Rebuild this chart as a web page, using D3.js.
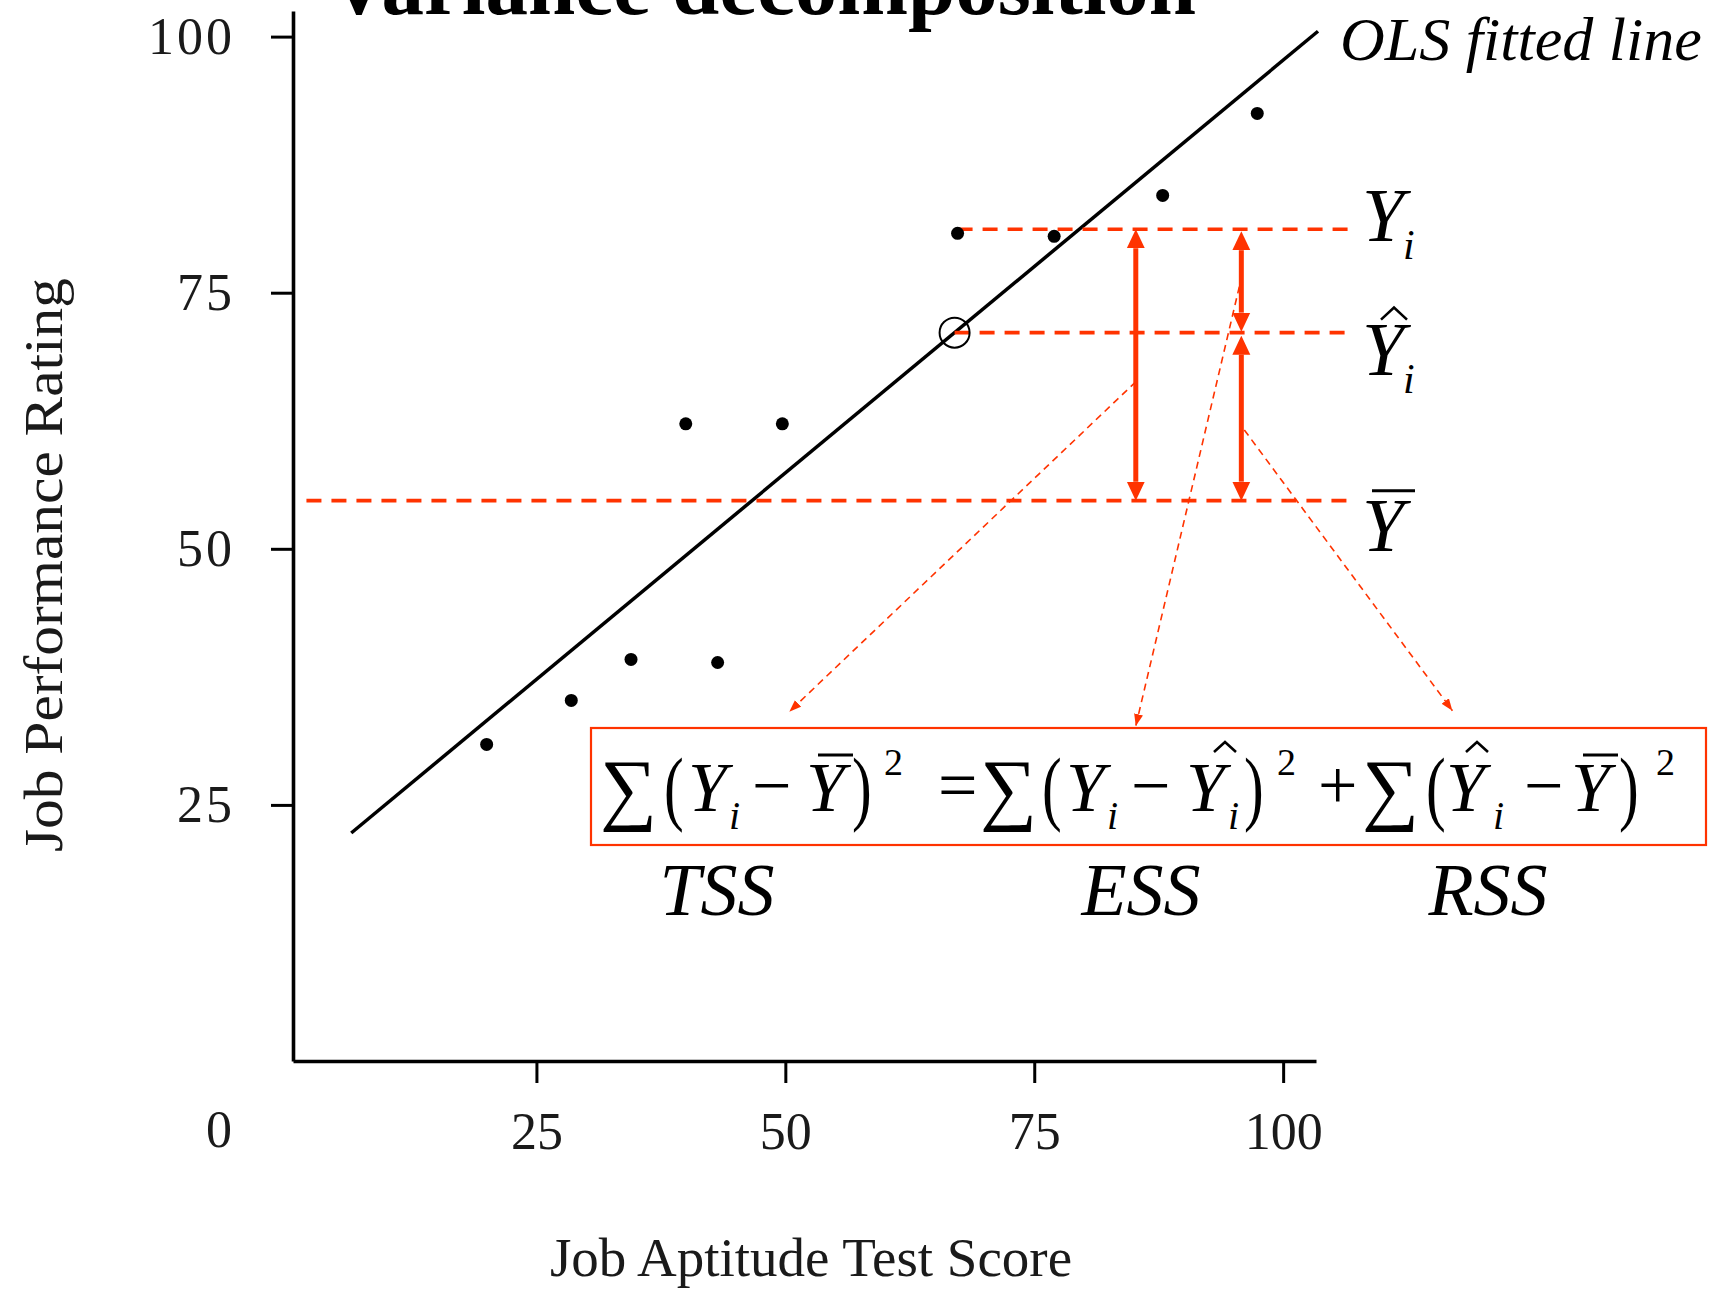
<!DOCTYPE html>
<html>
<head>
<meta charset="utf-8">
<script src="https://cdn.jsdelivr.net/npm/d3@7/dist/d3.min.js"></script>
<style>
  html, body { margin: 0; padding: 0; background: #ffffff; }
  svg { display: block; }
  text { font-family: "Liberation Serif", "Times New Roman", serif; }
</style>
</head>
<body>
<script>
// ---- Data -------------------------------------------------------------
const testScores   = [20.0, 28.5, 34.5, 40.0, 43.2, 49.7, 67.3, 77.0, 87.9, 97.4];
const ratings      = [30.9, 35.2, 39.2, 62.2, 38.9, 62.2, 80.8, 80.5, 84.5, 92.5];
const xTickValues  = [25, 50, 75, 100];
const yTickValues  = [25, 50, 75, 100];
const originLabel  = ["0"];

// fitted regression line  rating = a + b * score
const olsIntercept = 17.1;
const olsSlope     = 0.806;
const olsSpan      = [6.4, 103.5];

// highlighted observation i
const obsScore   = 67.0;
const obsRating  = 81.2;
const meanRating = 54.7;
const fittedRating = olsIntercept + olsSlope * obsScore;

// where the deviation arrows stand, and how far the reference lines run
const tssArrowScore   = 85.2;
const splitArrowScore = 95.8;
const levelLineEnd    = 106.7;
const meanLineStart   = 1.9;

// thin pointers from the deviations to the sums of squares
const pointerFrom = [[85.2, 66.3], [95.6, 75.6], [96.1, 61.6]];
const pointerTo   = [[50.4, 34.1], [85.2, 32.7], [117.0, 34.2]];

const sumLabels = ["TSS", "ESS", "RSS"];

// ---- Layout -----------------------------------------------------------
const W = 1713, H = 1291;
const red = "#ff3300";

const x = d3.scaleLinear().domain([0.55, 103.3]).range([293, 1316]);
const y = d3.scaleLinear().domain([0, 102.5]).range([1061, 11]);

const svg = d3.select("body").append("svg")
  .attr("width", W).attr("height", H);

const defs = svg.append("defs");
defs.append("marker")
  .attr("id", "bigHead")
  .attr("viewBox", "0 -10 19 20")
  .attr("markerUnits", "userSpaceOnUse")
  .attr("markerWidth", 19).attr("markerHeight", 20)
  .attr("refX", 0).attr("refY", 0)
  .attr("orient", "auto-start-reverse")
  .append("path").attr("d", "M0,-9L19,0L0,9Z").attr("fill", red);
defs.append("marker")
  .attr("id", "smallHead")
  .attr("viewBox", "0 -5 12 10")
  .attr("markerUnits", "userSpaceOnUse")
  .attr("markerWidth", 12).attr("markerHeight", 10)
  .attr("refX", 12).attr("refY", 0)
  .attr("orient", "auto")
  .append("path").attr("d", "M0,-4.5L12,0L0,4.5Z").attr("fill", red);

// ---- Title (runs off the top edge) ------------------------------------
svg.append("text")
  .attr("x", 328).attr("y", 14)
  .attr("font-size", 85).attr("font-weight", "bold")
  .attr("fill", "#000")
  .text("Variance decomposition");

// ---- Axes -------------------------------------------------------------
const xAxis = svg.append("g")
  .attr("transform", `translate(0,${y(0)})`)
  .call(d3.axisBottom(x).tickValues(xTickValues).tickSize(22).tickPadding(29).tickSizeOuter(0));
const yAxis = svg.append("g")
  .attr("transform", `translate(${x(0.55)},0)`)
  .call(d3.axisLeft(y).tickValues(yTickValues).tickSize(22).tickPadding(36).tickSizeOuter(0));

[xAxis, yAxis].forEach(g => {
  g.select(".domain").attr("stroke", "#000").attr("stroke-width", 3.6);
  g.selectAll(".tick line").attr("stroke", "#000").attr("stroke-width", 3);
  g.selectAll(".tick text")
    .attr("font-family", "'Liberation Serif', serif")
    .attr("font-size", 52)
    .attr("fill", "#1a1a1a");
});
yAxis.selectAll(".tick text").attr("letter-spacing", 3);

svg.selectAll("text.origin").data(originLabel).join("text")
  .attr("class", "origin")
  .attr("x", 219).attr("y", 1147)
  .attr("text-anchor", "middle")
  .attr("font-size", 52).attr("fill", "#1a1a1a")
  .text(d => d);

svg.append("text")
  .attr("x", 811).attr("y", 1276)
  .attr("text-anchor", "middle")
  .attr("font-size", 55).attr("fill", "#1a1a1a")
  .text("Job Aptitude Test Score");

svg.append("text")
  .attr("transform", "translate(62,565) rotate(-90)")
  .attr("text-anchor", "middle")
  .attr("font-size", 55).attr("fill", "#1a1a1a")
  .attr("textLength", 574).attr("lengthAdjust", "spacingAndGlyphs")
  .text("Job Performance Rating");

// ---- Fitted line ------------------------------------------------------
const olsLine = d3.line().x(d => x(d)).y(d => y(olsIntercept + olsSlope * d));
svg.append("path")
  .attr("d", olsLine(olsSpan))
  .attr("fill", "none").attr("stroke", "#000").attr("stroke-width", 3.5);

svg.append("text")
  .attr("x", 1340).attr("y", 60)
  .attr("font-size", 62).attr("font-style", "italic")
  .attr("fill", "#000")
  .text("OLS fitted line");

// ---- Reference levels: Y_i, Ŷ_i and mean -------------------------------
const levels = [
  {from: testScores[6], value: obsRating},
  {from: obsScore,      value: fittedRating},
  {from: meanLineStart, value: meanRating}
];
svg.selectAll("line.level").data(levels).join("line")
  .attr("class", "level")
  .attr("x1", d => x(d.from)).attr("x2", x(levelLineEnd))
  .attr("y1", d => y(d.value)).attr("y2", d => y(d.value))
  .attr("stroke", red).attr("stroke-width", 3.6)
  .attr("stroke-dasharray", "15,10");

// ---- Observations -----------------------------------------------------
svg.selectAll("circle.obs").data(testScores).join("circle")
  .attr("class", "obs")
  .attr("cx", d => x(d))
  .attr("cy", (d, i) => y(ratings[i]))
  .attr("r", 6.5)
  .attr("fill", "#000");

svg.append("circle")
  .attr("cx", x(obsScore)).attr("cy", y(fittedRating))
  .attr("r", 15)
  .attr("fill", "none").attr("stroke", "#000").attr("stroke-width", 2);

// ---- Deviation arrows -------------------------------------------------
const head = 19;
const deviations = [
  {at: tssArrowScore,   top: obsRating,    bottom: meanRating, gapTop: 0, gapBottom: 0},
  {at: splitArrowScore, top: obsRating,    bottom: fittedRating, gapTop: 2, gapBottom: 1},
  {at: splitArrowScore, top: fittedRating, bottom: meanRating, gapTop: 3, gapBottom: 0}
];
svg.selectAll("line.dev").data(deviations).join("line")
  .attr("class", "dev")
  .attr("x1", d => x(d.at)).attr("x2", d => x(d.at))
  .attr("y1", d => y(d.top) + d.gapTop + head)
  .attr("y2", d => y(d.bottom) - d.gapBottom - head)
  .attr("stroke", red).attr("stroke-width", 5)
  .attr("marker-start", "url(#bigHead)")
  .attr("marker-end", "url(#bigHead)");

svg.selectAll("line.pointer").data(pointerFrom).join("line")
  .attr("class", "pointer")
  .attr("x1", d => x(d[0])).attr("y1", d => y(d[1]))
  .attr("x2", (d, i) => x(pointerTo[i][0])).attr("y2", (d, i) => y(pointerTo[i][1]))
  .attr("stroke", red).attr("stroke-width", 1.6)
  .attr("stroke-dasharray", "7,5")
  .attr("marker-end", "url(#smallHead)");

// ---- Level labels -----------------------------------------------------
function hat(g, cx, top, w, h) {
  g.append("path")
    .attr("d", `M${cx - w / 2},${top + h}L${cx},${top}L${cx + w / 2},${top + h}`)
    .attr("fill", "none").attr("stroke", "#000").attr("stroke-width", 2.6);
}
function bar(g, x1, x2, yy) {
  g.append("line")
    .attr("x1", x1).attr("x2", x2).attr("y1", yy).attr("y2", yy)
    .attr("stroke", "#000").attr("stroke-width", 3);
}
function glyph(g, str, gx, gy, size, italic) {
  return g.append("text")
    .attr("x", gx).attr("y", gy)
    .attr("font-size", size)
    .attr("font-style", italic ? "italic" : "normal")
    .attr("fill", "#000")
    .text(str);
}

const side = svg.append("g");
const yiBase   = y(obsRating) + 12;
const yhatBase = y(fittedRating) + 42;
const ybarBase = y(meanRating) + 50;
glyph(side, "Y", 1362, yiBase, 76, true);
glyph(side, "i", 1403, yiBase + 18, 42, true);
glyph(side, "Y", 1362, yhatBase, 76, true);
hat(side, 1394, yhatBase - 67, 26, 12);
glyph(side, "i", 1403, yhatBase + 18, 42, true);
glyph(side, "Y", 1362, ybarBase, 76, true);
bar(side, 1372, 1415, ybarBase - 60);

// ---- Decomposition identity -------------------------------------------
const box = {x: 591, y: 728, w: 1115, h: 117};
svg.append("rect")
  .attr("x", box.x).attr("y", box.y).attr("width", box.w).attr("height", box.h)
  .attr("fill", "#fff").attr("stroke", red).attr("stroke-width", 2.2);

const f = svg.append("g");
const B = 811, SUB = 829, SUP = 775;
const big = 70;
function sigma(px)  { glyph(f, "\u2211", px, B + 4, 80, false); }
function paren(ch, px) {
  f.append("text")
    .attr("transform", `translate(${px},${B + 4}) scale(0.8,1.12)`)
    .attr("font-size", 74).attr("fill", "#000")
    .text(ch);
}
function sq(px)     { glyph(f, "2", px, SUP, 38, false); }
function sub(px)    { glyph(f, "i", px, SUB, 40, true); }
function capY(px)   { glyph(f, "Y", px, B, big, true); }
function minus(px)  { glyph(f, "\u2212", px, B - 2, big, false); }

// first term
sigma(600); paren("(", 664);
capY(688); sub(729); minus(752);
capY(806); bar(f, 818, 853, 755);
paren(")", 852); sq(884);
glyph(f, "=", 938, B - 2, big, false);
// second term
sigma(980); paren("(", 1042);
capY(1066); sub(1107); minus(1131);
capY(1186); hat(f, 1225, 742, 22, 10); sub(1228);
paren(")", 1244); sq(1277);
glyph(f, "+", 1318, B - 2, big, false);
// third term
sigma(1362); paren("(", 1426);
capY(1446); hat(f, 1477, 742, 22, 10); sub(1493); minus(1524);
capY(1571); bar(f, 1583, 1618, 755);
paren(")", 1619); sq(1656);

// names of the sums
const labelCenters = [717, 1141, 1488];
svg.selectAll("text.sumname").data(sumLabels).join("text")
  .attr("class", "sumname")
  .attr("x", (d, i) => labelCenters[i]).attr("y", 915)
  .attr("text-anchor", "middle")
  .attr("font-size", 74).attr("font-style", "italic")
  .attr("fill", "#000")
  .text(d => d);
</script>
</body>
</html>
